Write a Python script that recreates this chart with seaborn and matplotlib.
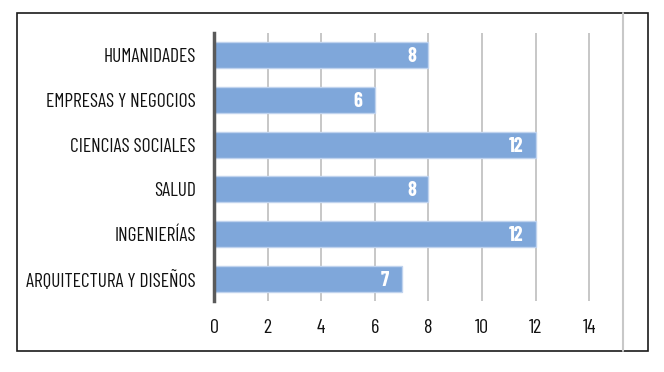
import matplotlib
matplotlib.use("Agg")
import matplotlib.pyplot as plt
import seaborn as sns
from matplotlib.patches import Rectangle
from matplotlib.lines import Line2D

categories = ["HUMANIDADES", "EMPRESAS Y NEGOCIOS", "CIENCIAS SOCIALES",
              "SALUD", "INGENIERÍAS", "ARQUITECTURA Y DISEÑOS"]
values = [8, 6, 12, 8, 12, 7]
xticks = [0, 2, 4, 6, 8, 10, 12, 14]

sns.set_style("white")
plt.rcParams["font.family"] = ["Barlow Condensed", "DejaVu Sans"]

fig = plt.figure(figsize=(6.64, 3.72), dpi=100)
ax = fig.add_axes([214/664, 1-301/372, (616-214)/664, (301-33)/372])

sns.barplot(x=values, y=categories, orient="h", color="#7fa7da", saturation=1,
            width=0.58, edgecolor="#c0d3ee", linewidth=1, ax=ax)

ax.set_xlim(0, 15)
ax.set_ylim(5.5, -0.5)
ax.set_xticks(xticks)
ax.set_xticklabels([str(t) for t in xticks], fontsize=14.5, color="#111111")
ax.tick_params(axis="y", labelsize=14, labelcolor="#111111", length=0, pad=13)
ax.tick_params(axis="x", length=0, pad=13)
ax.set_xlabel("")
ax.set_ylabel("")
ax.xaxis.grid(True, color="#bdbdbd", linewidth=1.2)
ax.set_axisbelow(True)
for s in ["top", "right", "bottom"]:
    ax.spines[s].set_visible(False)
ax.spines["left"].set_color("#5a5a5a")
ax.spines["left"].set_linewidth(2.5)
ax.spines["left"].set_zorder(5)

for i, v in enumerate(values):
    ax.annotate(str(v), xy=(v, i), xytext=(-9, -1), textcoords="offset points",
                ha="right", va="center", color="white", fontsize=14.5, fontweight="bold")

# outer frame and right border line
fig.patches.append(Rectangle((17/664, 1-351/372), (648-17)/664, (351-13)/372,
                             transform=fig.transFigure, fill=False,
                             edgecolor="#1a1a1a", linewidth=1.2))
fig.lines.append(Line2D([623/664, 623/664], [1-351/372, 1-13/372],
                        transform=fig.transFigure, color="#c8c8c8", linewidth=1.5))

fig.savefig("out.png", dpi=100)
